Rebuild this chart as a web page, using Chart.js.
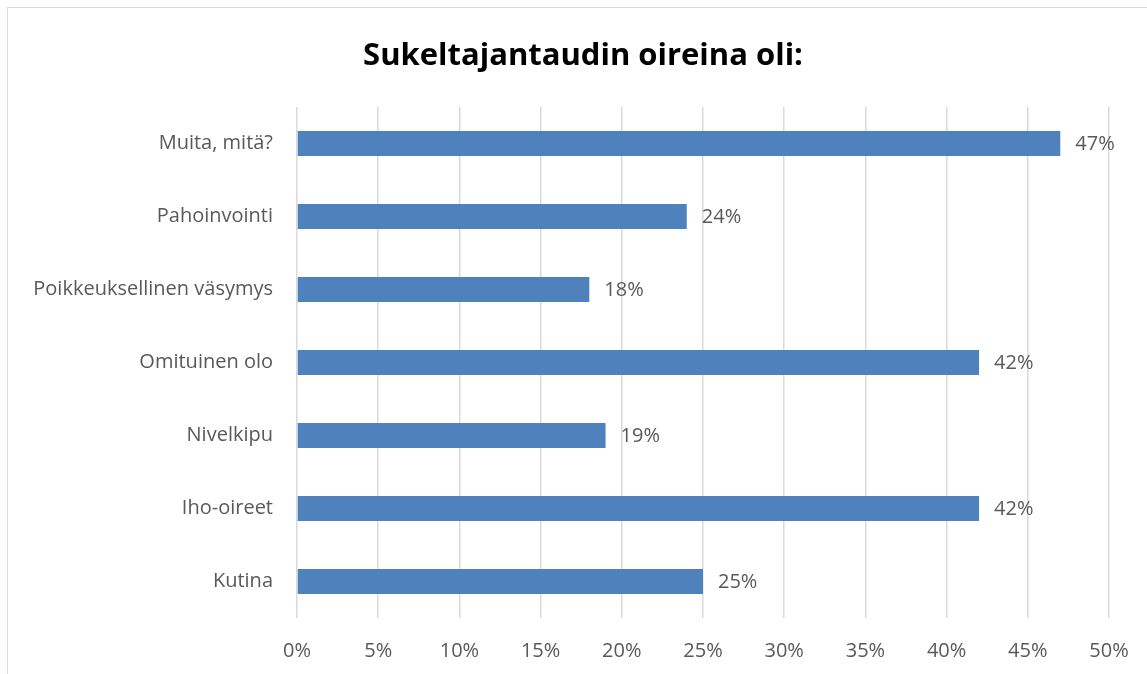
<!DOCTYPE html>
<html lang="fi">
<head>
    <meta charset="UTF-8">
    <title>Sukeltajantaudin oireina oli</title>
    <script src="https://cdn.jsdelivr.net/npm/chart.js"></script>
    <style>
        html, body { margin: 0; padding: 0; background: #fff; overflow: hidden; }
        .frame {
            position: absolute;
            left: 7px;
            top: 7px;
            width: 1160px;
            height: 700px;
            border: 1px solid #d9d9d9;
        }
        #chart { position: absolute; left: 0; top: 0; }
    </style>
</head>
<body>
    <div class="frame"></div>
    <canvas id="chart" width="1147" height="674"></canvas>

    <script>
        // Data (top to bottom)
        const categories = ['Muita, mitä?', 'Pahoinvointi', 'Poikkeuksellinen väsymys', 'Omituinen olo', 'Nivelkipu', 'Iho-oireet', 'Kutina'];
        const shares = [47, 24, 18, 42, 19, 42, 25];
        const tickStep = 5;
        const axisMax = 50;
        const chartTitle = 'Sukeltajantaudin oireina oli:';

        const font = "'Open Sans', 'Liberation Sans', sans-serif";
        const textColor = '#595959';

        // value next to each bar end + title centred on the whole frame
        const extras = {
            id: 'extras',
            afterDatasetsDraw(chart) {
                const c = chart.ctx;
                const meta = chart.getDatasetMeta(0);
                c.save();
                c.font = '20px ' + font;
                c.fillStyle = textColor;
                c.textAlign = 'left';
                c.textBaseline = 'middle';
                meta.data.forEach((bar, i) => {
                    c.fillText(shares[i] + '%', bar.x + 15, bar.y + 1);
                });
                c.font = 'bold 31px ' + font;
                c.fillStyle = '#000';
                c.textAlign = 'center';
                c.fillText(chartTitle, 583, 56);
                c.restore();
            }
        };

        new Chart(document.getElementById('chart'), {
            type: 'bar',
            data: {
                labels: categories,
                datasets: [{
                    data: shares,
                    backgroundColor: '#4f81bd',
                    borderWidth: 0,
                    barPercentage: 0.68,
                    categoryPercentage: 0.5
                }]
            },
            options: {
                indexAxis: 'y',
                responsive: false,
                animation: false,
                layout: { padding: { top: 107, left: 0, right: 0, bottom: 0 } },
                plugins: {
                    legend: { display: false },
                    tooltip: { enabled: false },
                    title: { display: false }
                },
                scales: {
                    x: {
                        min: 0,
                        max: axisMax,
                        afterFit(scale) {
                            scale.height = 56;
                            scale.paddingRight = 38;
                        },
                        ticks: {
                            stepSize: tickStep,
                            color: textColor,
                            font: { family: font, size: 20 },
                            padding: 21,
                            callback: v => v + '%'
                        },
                        grid: { color: '#d9d9d9', lineWidth: 1.5, drawTicks: false },
                        border: { display: false }
                    },
                    y: {
                        afterFit(scale) { scale.width = 297; },
                        ticks: {
                            color: textColor,
                            font: { family: font, size: 20 },
                            padding: 16
                        },
                        grid: { display: false },
                        border: { display: false }
                    }
                }
            },
            plugins: [extras]
        });
    </script>
</body>
</html>
